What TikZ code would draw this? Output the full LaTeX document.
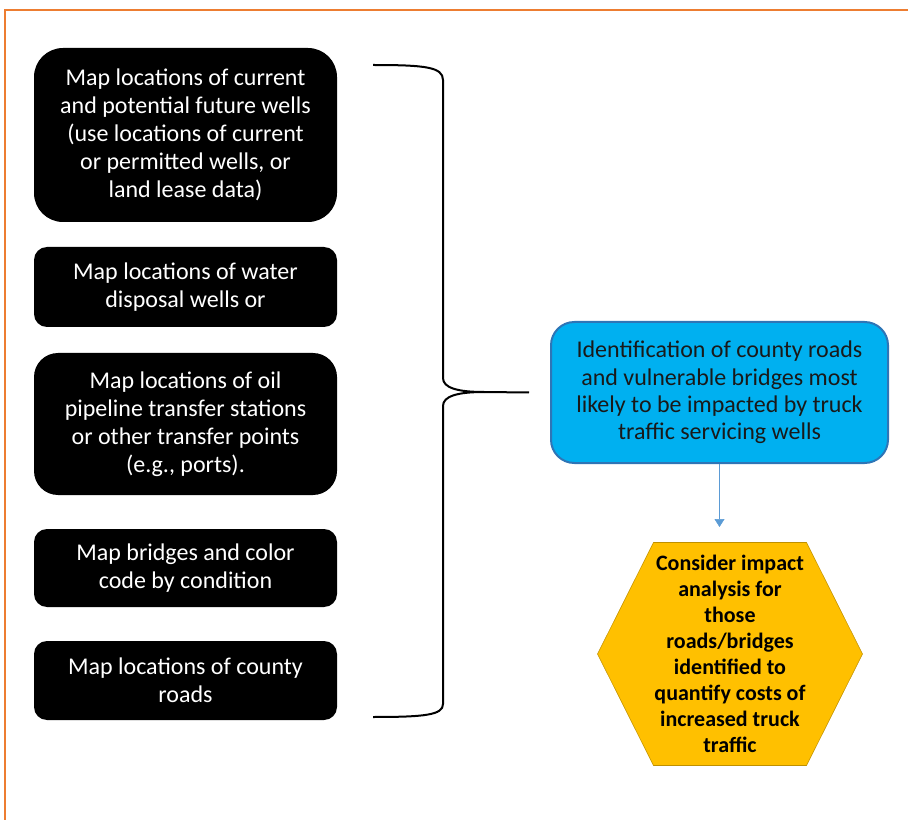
\documentclass[tikz,border=0pt]{standalone}
\usepackage{fontspec}
\setmainfont{Carlito}
\usetikzlibrary{arrows.meta,backgrounds}
\tikzset{every picture/.style={line width=0.75pt}}
\definecolor{frameorange}{RGB}{237,125,49}
\definecolor{identblue}{RGB}{0,176,240}
\definecolor{identline}{RGB}{46,117,182}
\definecolor{arrowblue}{RGB}{91,155,213}
\definecolor{hexgold}{RGB}{255,192,0}
\definecolor{hexline}{RGB}{191,144,0}
\tikzset{
  mapbox/.style={fill=black, text=white, minimum width=227.25pt, inner sep=0pt,
    align=center, font=\fontsize{18}{21}\selectfont},
  identbox/.style={fill=identblue, draw=identline, line width=1.5, text=black!90,
    minimum width=252.75pt, minimum height=105.75pt, rounded corners=17.5pt,
    inner sep=0pt, align=center, font=\fontsize{18}{20.6}\selectfont},
  hexbox/.style={minimum width=198pt, minimum height=166.5pt, inner sep=0pt,
    align=center, font=\bfseries\fontsize{16.5}{19.5}\selectfont}
}

\begin{document}
\begin{tikzpicture}[x=0.75pt,y=0.75pt,yscale=-1,xscale=1]
\useasboundingbox (0,0) rectangle (908,820);
\clip (0,0) rectangle (908,820);

%Shape: Rectangle (frame)
\draw [color=frameorange, line width=1.5] (5,10) rectangle (930,850);

%Shape: Rounded Rect
\node [mapbox, minimum height=130.5pt, rounded corners=21.75pt] (wells) at (185.5,135)
  {Map locations of current\\and potential future wells\\(use locations of current\\or permitted wells, or\\land lease data)};
%Shape: Rounded Rect
\node [mapbox, minimum height=60pt, rounded corners=9.75pt] (disposal) at (185.5,287)
  {Map locations of water\\disposal wells or};
%Shape: Rounded Rect
\node [mapbox, minimum height=106.5pt, rounded corners=18pt] (pipeline) at (185.5,424)
  {Map locations of oil\\pipeline transfer stations\\or other transfer points\\(e.g., ports).};
%Shape: Rounded Rect
\node [mapbox, minimum height=58.5pt, rounded corners=9.75pt] (bridges) at (185.5,568)
  {Map bridges and color\\code by condition};
%Shape: Rounded Rect
\node [mapbox, minimum height=59.25pt, rounded corners=9.75pt] (roads) at (185.5,680.5)
  {Map locations of county\\roads};

%Shape: Rounded Rect
\node [identbox] (ident) at (719.5,392.5)
  {Identification of county roads\\and vulnerable bridges most\\likely to be impacted by truck\\traffic servicing wells};

%Shape: Hexagon
\node [hexbox] (impact) at (730,654)
  {Consider impact\\analysis for\\those\\roads/bridges\\identified to\\quantify costs of\\increased truck\\traffic};
\begin{pgfonlayer}{background}
\draw [fill=hexgold, draw=hexline] (impact.west) -- ([xshift=42pt]impact.north west) -- ([xshift=-42pt]impact.north east)
  -- (impact.east) -- ([xshift=-42pt]impact.south east) -- ([xshift=42pt]impact.south west) -- cycle;
\end{pgfonlayer}

%Brace
\coordinate (bracetop) at (373,65);
\coordinate (bracebot) at (373,717);
\coordinate (bracetip) at ([xshift=-15.75pt]ident.west);
\draw [line width=1.5] (bracetop) .. controls (425,65) and (443,67) .. (443,80) -- (443,378)
  .. controls (443,388) and (458,392) .. (484,392) -- (bracetip);
\draw [line width=1.5] (484,392) .. controls (458,392) and (443,396) .. (443,406) -- (443,704)
  .. controls (443,715) and (425,717) .. (bracebot);

%Straight Lines
\coordinate (arrowend) at (719.5,527);
\draw [color=arrowblue, -{Triangle[length=6pt,width=7.5pt]}] (ident.south) -- (arrowend);

\end{tikzpicture}
\end{document}
